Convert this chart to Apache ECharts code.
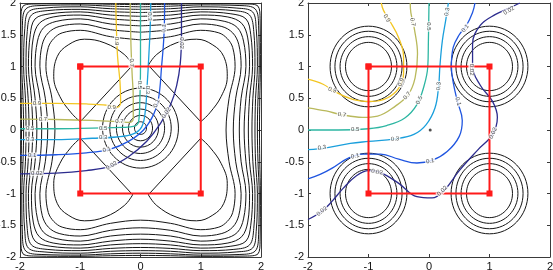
<!DOCTYPE html>
<html>
<head>
<meta charset="utf-8">
<script src="https://cdn.jsdelivr.net/npm/echarts@6/dist/echarts.min.js"></script>
<style>
  html, body { margin: 0; padding: 0; background: #fff; }
  #chart { width: 553px; height: 270px; }
</style>
</head>
<body>
<div id="chart"></div>
<script>
// ---- data ----
const xTicks = [-2, -1, 0, 1, 2];
const yTicks = [-2, -1.5, -1, -0.5, 0, 0.5, 1, 1.5, 2];

// left panel: closed black contours around the four lobes
const ring1 = [[0,1.42],[0.5,1.47],[1,1.57],[1.3,1.53],[1.44,1.44],[1.53,1.3],[1.57,1],[1.47,0.5],[1.42,0],[1.47,-0.5],[1.57,-1],[1.53,-1.3],[1.44,-1.44],[1.3,-1.53],[1,-1.57],[0.5,-1.47],[0,-1.42],[-0.5,-1.47],[-1,-1.57],[-1.3,-1.53],[-1.44,-1.44],[-1.53,-1.3],[-1.57,-1],[-1.47,-0.5],[-1.42,0],[-1.47,0.5],[-1.57,1],[-1.53,1.3],[-1.44,1.44],[-1.3,1.53],[-1,1.57],[-0.5,1.47],[0,1.42]];
const ring2 = [[0,1.54],[0.5,1.58],[1,1.67],[1.35,1.63],[1.53,1.53],[1.63,1.35],[1.67,1],[1.58,0.5],[1.54,0],[1.58,-0.5],[1.67,-1],[1.63,-1.35],[1.53,-1.53],[1.35,-1.63],[1,-1.67],[0.5,-1.58],[0,-1.54],[-0.5,-1.58],[-1,-1.67],[-1.35,-1.63],[-1.53,-1.53],[-1.63,-1.35],[-1.67,-1],[-1.58,-0.5],[-1.54,0],[-1.58,0.5],[-1.67,1],[-1.63,1.35],[-1.53,1.53],[-1.35,1.63],[-1,1.67],[-0.5,1.58],[0,1.54]];
const ring3 = [[0,1.64],[0.5,1.67],[1,1.75],[1.4,1.71],[1.61,1.61],[1.71,1.4],[1.75,1],[1.67,0.5],[1.64,0],[1.67,-0.5],[1.75,-1],[1.71,-1.4],[1.61,-1.61],[1.4,-1.71],[1,-1.75],[0.5,-1.67],[0,-1.64],[-0.5,-1.67],[-1,-1.75],[-1.4,-1.71],[-1.61,-1.61],[-1.71,-1.4],[-1.75,-1],[-1.67,-0.5],[-1.64,0],[-1.67,0.5],[-1.75,1],[-1.71,1.4],[-1.61,1.61],[-1.4,1.71],[-1,1.75],[-0.5,1.67],[0,1.64]];
const ring4 = [[0,1.72],[0.5,1.75],[1,1.81],[1.45,1.78],[1.68,1.68],[1.78,1.45],[1.81,1],[1.75,0.5],[1.72,0],[1.75,-0.5],[1.81,-1],[1.78,-1.45],[1.68,-1.68],[1.45,-1.78],[1,-1.81],[0.5,-1.75],[0,-1.72],[-0.5,-1.75],[-1,-1.81],[-1.45,-1.78],[-1.68,-1.68],[-1.78,-1.45],[-1.81,-1],[-1.75,-0.5],[-1.72,0],[-1.75,0.5],[-1.81,1],[-1.78,1.45],[-1.68,1.68],[-1.45,1.78],[-1,1.81],[-0.5,1.75],[0,1.72]];
const ring5 = [[0,1.79],[0.5,1.81],[1,1.86],[1.5,1.83],[1.75,1.75],[1.83,1.5],[1.86,1],[1.81,0.5],[1.79,0],[1.81,-0.5],[1.86,-1],[1.83,-1.5],[1.75,-1.75],[1.5,-1.83],[1,-1.86],[0.5,-1.81],[0,-1.79],[-0.5,-1.81],[-1,-1.86],[-1.5,-1.83],[-1.75,-1.75],[-1.83,-1.5],[-1.86,-1],[-1.81,-0.5],[-1.79,0],[-1.81,0.5],[-1.86,1],[-1.83,1.5],[-1.75,1.75],[-1.5,1.83],[-1,1.86],[-0.5,1.81],[0,1.79]];
const ring6 = [[0,1.85],[0.5,1.865],[1,1.9],[1.55,1.88],[1.81,1.81],[1.88,1.55],[1.9,1],[1.865,0.5],[1.85,0],[1.865,-0.5],[1.9,-1],[1.88,-1.55],[1.81,-1.81],[1.55,-1.88],[1,-1.9],[0.5,-1.865],[0,-1.85],[-0.5,-1.865],[-1,-1.9],[-1.55,-1.88],[-1.81,-1.81],[-1.88,-1.55],[-1.9,-1],[-1.865,-0.5],[-1.85,0],[-1.865,0.5],[-1.9,1],[-1.88,1.55],[-1.81,1.81],[-1.55,1.88],[-1,1.9],[-0.5,1.865],[0,1.85]];
const ring7 = [[0,1.9],[0.5,1.91],[1,1.94],[1.6,1.92],[1.86,1.86],[1.92,1.6],[1.94,1],[1.91,0.5],[1.9,0],[1.91,-0.5],[1.94,-1],[1.92,-1.6],[1.86,-1.86],[1.6,-1.92],[1,-1.94],[0.5,-1.91],[0,-1.9],[-0.5,-1.91],[-1,-1.94],[-1.6,-1.92],[-1.86,-1.86],[-1.92,-1.6],[-1.94,-1],[-1.91,-0.5],[-1.9,0],[-1.91,0.5],[-1.94,1],[-1.92,1.6],[-1.86,1.86],[-1.6,1.92],[-1,1.94],[-0.5,1.91],[0,1.9]];
const ring8 = [[0,1.94],[0.5,1.95],[1,1.97],[1.65,1.96],[1.905,1.905],[1.96,1.65],[1.97,1],[1.95,0.5],[1.94,0],[1.95,-0.5],[1.97,-1],[1.96,-1.65],[1.905,-1.905],[1.65,-1.96],[1,-1.97],[0.5,-1.95],[0,-1.94],[-0.5,-1.95],[-1,-1.97],[-1.65,-1.96],[-1.905,-1.905],[-1.96,-1.65],[-1.97,-1],[-1.95,-0.5],[-1.94,0],[-1.95,0.5],[-1.97,1],[-1.96,1.65],[-1.905,1.905],[-1.65,1.96],[-1,1.97],[-0.5,1.95],[0,1.94]];
const ring9 = [[0,1.975],[0.5,1.98],[1,1.99],[1.75,1.985],[1.95,1.95],[1.985,1.75],[1.99,1],[1.98,0.5],[1.975,0],[1.98,-0.5],[1.99,-1],[1.985,-1.75],[1.95,-1.95],[1.75,-1.985],[1,-1.99],[0.5,-1.98],[0,-1.975],[-0.5,-1.98],[-1,-1.99],[-1.75,-1.985],[-1.95,-1.95],[-1.985,-1.75],[-1.99,-1],[-1.98,-0.5],[-1.975,0],[-1.98,0.5],[-1.99,1],[-1.985,1.75],[-1.95,1.95],[-1.75,1.985],[-1,1.99],[-0.5,1.98],[0,1.975]];

// left panel: the four lobes (curved outer arc + straight inner edge)
const lobeArcUL = [[-1.0,0.13],[-1.15,0.27],[-1.34,0.53],[-1.44,0.84],[-1.38,1.16],[-1.2,1.34],[-0.93,1.43],[-0.59,1.37],[-0.27,1.19],[-0.13,1.02]];
const lobeArcUR = [[1.0,0.13],[1.15,0.27],[1.34,0.53],[1.44,0.84],[1.38,1.16],[1.2,1.34],[0.93,1.43],[0.59,1.37],[0.27,1.19],[0.13,1.02]];
const lobeArcLL = [[-1.0,-0.13],[-1.15,-0.27],[-1.34,-0.53],[-1.44,-0.84],[-1.38,-1.16],[-1.2,-1.34],[-0.93,-1.43],[-0.59,-1.37],[-0.27,-1.19],[-0.13,-1.02]];
const lobeArcLR = [[1.0,-0.13],[1.15,-0.27],[1.34,-0.53],[1.44,-0.84],[1.38,-1.16],[1.2,-1.34],[0.93,-1.43],[0.59,-1.37],[0.27,-1.19],[0.13,-1.02]];
const lobeEdgeUL = [[-1.0,0.13],[-0.13,1.02]];
const lobeEdgeUR = [[1.0,0.13],[0.13,1.02]];
const lobeEdgeLL = [[-1.0,-0.13],[-0.13,-1.02]];
const lobeEdgeLR = [[1.0,-0.13],[0.13,-1.02]];

// left panel: concentric rings in the middle  [cx, cy, r]
const centreRings = [[0,0.03,0.1],[0,0.03,0.2],[0,0.03,0.3],[0,0.03,0.4],[0,0.03,0.51],[0,0.03,0.63]];

// left panel: coloured level lines
const leftL09 = [[-2,0.42],[-1.4,0.42],[-0.9,0.41],[-0.55,0.39],[-0.38,0.36],[-0.33,0.45],[-0.34,0.75],[-0.38,1.15],[-0.4,1.6],[-0.41,2]];
const leftL07 = [[-2,0.17],[-1.4,0.165],[-0.8,0.15],[-0.35,0.13],[-0.18,0.12],[-0.12,0.18],[-0.12,0.5],[-0.14,0.9],[-0.16,1.4],[-0.17,2]];
const leftL05 = [[-2,0.02],[-1.4,0.02],[-0.8,0.03],[-0.3,0.04],[-0.1,0.06],[-0.03,0.14],[-0.01,0.5],[0,1.0],[0,1.5],[0,2]];
const leftL03 = [[-2,-0.15],[-1.4,-0.15],[-0.8,-0.13],[-0.4,-0.11],[-0.12,-0.06],[0.02,0.05],[0.08,0.3],[0.11,0.7],[0.14,1.2],[0.16,1.6],[0.17,2]];
const leftL01 = [[-2,-0.4],[-1.4,-0.39],[-0.9,-0.36],[-0.5,-0.3],[-0.2,-0.18],[0.05,0.0],[0.22,0.25],[0.3,0.5],[0.35,1.0],[0.39,1.5],[0.4,2]];
const leftL002 = [[-2,-0.69],[-1.4,-0.68],[-0.9,-0.64],[-0.5,-0.57],[-0.2,-0.42],[0.1,-0.18],[0.33,0.1],[0.5,0.4],[0.6,0.7],[0.66,1.05],[0.68,1.5],[0.68,2]];

// right panel: rings around the four corners  [cx, cy, r]
const wellRings = [
  [-1,1,0.38],[-1,1,0.47],[-1,1,0.555],[-1,1,0.635],
  [1,1,0.38],[1,1,0.47],[1,1,0.555],[1,1,0.635],
  [-1,-1,0.38],[-1,-1,0.47],[-1,-1,0.555],[-1,-1,0.635],
  [1,-1,0.38],[1,-1,0.47],[1,-1,0.555],[1,-1,0.635]
];

// right panel: coloured level lines
const rightL09 = [[-2,0.8],[-1.75,0.72],[-1.55,0.6],[-1.25,0.48],[-0.95,0.45],[-0.7,0.5],[-0.5,0.66],[-0.42,0.9],[-0.42,1.15],[-0.5,1.45],[-0.65,1.72],[-0.75,1.88],[-0.79,2]];
const rightL07 = [[-2,0.35],[-1.7,0.3],[-1.44,0.24],[-1.1,0.2],[-0.85,0.22],[-0.55,0.38],[-0.34,0.56],[-0.23,0.82],[-0.19,1.2],[-0.24,1.58],[-0.3,1.85],[-0.31,2]];
const rightL05 = [[-2,0.0],[-1.5,0.0],[-1.0,0.02],[-0.7,0.07],[-0.4,0.19],[-0.2,0.4],[-0.08,0.7],[-0.02,1.0],[-0.01,1.4],[0,2]];
const rightL03 = [[-2,-0.31],[-1.7,-0.28],[-1.3,-0.21],[-1.0,-0.18],[-0.56,-0.14],[-0.25,-0.07],[-0.05,0.08],[0.1,0.35],[0.16,0.7],[0.18,1.0],[0.22,1.4],[0.28,1.75],[0.32,2]];
const rightL01 = [[-2,-0.77],[-1.8,-0.7],[-1.6,-0.6],[-1.35,-0.45],[-1.1,-0.38],[-0.8,-0.38],[-0.5,-0.46],[-0.2,-0.52],[0.05,-0.48],[0.3,-0.34],[0.5,-0.1],[0.55,0.15],[0.47,0.45],[0.4,0.75],[0.37,1.0],[0.4,1.3],[0.5,1.5],[0.62,1.65],[0.72,1.85],[0.76,2]];
const rightL002 = [[-2,-1.41],[-1.77,-1.28],[-1.6,-1.12],[-1.42,-0.92],[-1.2,-0.72],[-1.0,-0.64],[-0.8,-0.67],[-0.5,-0.84],[-0.2,-1.05],[0.05,-1.07],[0.25,-0.95],[0.5,-0.64],[0.8,-0.32],[1.05,-0.07],[1.13,0.2],[1.05,0.45],[0.85,0.7],[0.72,1.0],[0.72,1.35],[0.85,1.65],[1.1,1.82],[1.35,1.93],[1.5,2]];
const centreDot = [[0.02,0.0]];

// red square (same in both panels)
const square = [[-1,1],[1,1],[1,-1],[-1,-1],[-1,1]];

// inline contour labels: [text, x, y, rotation]
const leftLabels = [
  ['0.9',-1.72,0.42,0],['0.9',-0.48,0.36,0],['0.9',-0.39,1.4,-90],
  ['0.7',-1.62,0.17,0],['0.7',-0.35,0.13,0],['0.7',-0.15,1.06,-90],
  ['0.5',-1.83,0.02,0],['0.5',-0.62,0.03,0],['0.5',-0.01,0.71,-90],
  ['0.3',-1.83,-0.15,0],['0.3',-0.62,-0.12,0],['0.3',0.12,0.63,-90],['0.3',0.16,1.79,-90],
  ['0.1',-1.8,-0.4,0],['0.1',-0.56,-0.31,15],['0.1',0.27,0.42,65],['0.1',0.39,1.6,85],
  ['0.02',-1.72,-0.68,0],['0.02',-0.48,-0.56,30],['0.02',0.43,0.27,55],['0.02',0.68,1.37,-90]
];
const rightLabels = [
  ['0.9',-1.6,0.63,-20],['0.9',-0.46,0.75,65],['0.9',-0.7,1.76,-60],
  ['0.7',-1.44,0.24,-10],['0.7',-0.36,0.54,50],['0.7',-0.27,1.7,-80],
  ['0.5',-1.22,0.01,0],['0.5',-0.16,0.47,65],['0.5',-0.01,1.63,-90],
  ['0.3',-1.77,-0.28,8],['0.3',-0.56,-0.14,5],['0.3',0.16,0.69,85],['0.3',0.3,1.86,80],
  ['0.1',-1.22,-0.41,15],['0.1',0.02,-0.49,10],['0.1',0.48,0.45,-75],['0.1',0.6,1.6,50],
  ['0.02',-1.77,-1.28,40],['0.02',-0.86,-0.66,-10],['0.02',0.22,-0.96,45],['0.02',1.06,-0.05,65],['0.02',0.7,0.95,-90],['0.02',1.32,1.88,30]
];

const colors = { c09:'#f3c623', c07:'#b9b95c', c05:'#2db6a2', c03:'#1a9fdc', c01:'#1f55e0', c002:'#2c2c8e' };

// ---- chart ----
const font = 'Liberation Sans, Arial, Helvetica, sans-serif';
const chart = echarts.init(document.getElementById('chart'));

function xAxisFor(grid, top) {
  return {
    type: 'value', gridIndex: grid, min: xTicks[0], max: xTicks[xTicks.length - 1], interval: 1,
    position: top ? 'top' : 'bottom',
    axisLine: { show: true, onZero: false, lineStyle: { color: '#3a3a3a', width: 1 } },
    axisTick: { show: true, inside: true, length: 3, lineStyle: { color: '#3a3a3a' } },
    axisLabel: { show: !top, color: '#111', fontSize: 11, fontFamily: font, margin: 4 },
    splitLine: { show: false }
  };
}
function yAxisFor(grid, right) {
  return {
    type: 'value', gridIndex: grid, min: yTicks[0], max: yTicks[yTicks.length - 1], interval: 0.5,
    position: right ? 'right' : 'left',
    axisLine: { show: true, onZero: false, lineStyle: { color: '#3a3a3a', width: 1 } },
    axisTick: { show: true, inside: true, length: 3, lineStyle: { color: '#3a3a3a' } },
    axisLabel: { show: !right, color: '#111', fontSize: 11, fontFamily: font, margin: 4 },
    splitLine: { show: false }
  };
}

const series = [];
function addLine(data, ax, color, width, smooth, z) {
  series.push({
    type: 'line', xAxisIndex: ax, yAxisIndex: ax, data: data, symbol: 'none',
    smooth: smooth, lineStyle: { color: color, width: width }, silent: true, z: z || 2
  });
}
function addRings(data, ax) {
  series.push({
    type: 'custom', xAxisIndex: ax, yAxisIndex: ax, data: data, silent: true, z: 2,
    encode: { x: 0, y: 1 },
    renderItem: function (params, api) {
      const c = api.coord([api.value(0), api.value(1)]);
      const e = api.coord([api.value(0) + api.value(2), api.value(1) + api.value(2)]);
      return {
        type: 'ellipse',
        shape: { cx: c[0], cy: c[1], rx: Math.abs(e[0] - c[0]), ry: Math.abs(c[1] - e[1]) },
        style: { fill: 'none', stroke: '#151515', lineWidth: 1 }
      };
    }
  });
}
function addLabels(list, ax) {
  series.push({
    type: 'scatter', xAxisIndex: ax, yAxisIndex: ax, symbolSize: 1, silent: true, z: 10,
    itemStyle: { color: 'rgba(0,0,0,0)' },
    data: list.map(function (l) {
      return { value: [l[1], l[2]], label: { formatter: l[0], rotate: l[3] } };
    }),
    label: {
      show: true, position: 'inside', fontSize: 6, color: '#222', fontFamily: font,
      backgroundColor: '#fff', padding: [0, 1]
    }
  });
}

// left panel (axes 0)
[ring1, ring2, ring3, ring4, ring5, ring6, ring7, ring8, ring9].forEach(function (r) {
  addLine(r, 0, '#151515', 1, 0.35);
});
[lobeArcUL, lobeArcUR, lobeArcLL, lobeArcLR].forEach(function (r) { addLine(r, 0, '#151515', 1, 0.4); });
[lobeEdgeUL, lobeEdgeUR, lobeEdgeLL, lobeEdgeLR].forEach(function (r) { addLine(r, 0, '#151515', 1, false); });
addRings(centreRings, 0);
addLine(leftL09, 0, colors.c09, 1.3, 0.4, 3);
addLine(leftL07, 0, colors.c07, 1.3, 0.4, 3);
addLine(leftL05, 0, colors.c05, 1.3, 0.4, 3);
addLine(leftL03, 0, colors.c03, 1.3, 0.4, 3);
addLine(leftL01, 0, colors.c01, 1.3, 0.4, 3);
addLine(leftL002, 0, colors.c002, 1.3, 0.4, 3);

// right panel (axes 2)
addRings(wellRings, 2);
addLine(rightL09, 2, colors.c09, 1.3, 0.4, 3);
addLine(rightL07, 2, colors.c07, 1.3, 0.4, 3);
addLine(rightL05, 2, colors.c05, 1.3, 0.4, 3);
addLine(rightL03, 2, colors.c03, 1.3, 0.4, 3);
addLine(rightL01, 2, colors.c01, 1.3, 0.4, 3);
addLine(rightL002, 2, colors.c002, 1.3, 0.4, 3);

// red squares and centre dot
[0, 2].forEach(function (ax) {
  series.push({
    type: 'line', xAxisIndex: ax, yAxisIndex: ax, data: square, z: 6, silent: true,
    symbol: 'rect', symbolSize: 6, itemStyle: { color: '#ff1a1a' },
    lineStyle: { color: '#ff1a1a', width: 2 }
  });
});
series.push({
  type: 'scatter', xAxisIndex: 2, yAxisIndex: 2, data: centreDot, symbol: 'circle',
  symbolSize: 3, itemStyle: { color: '#222' }, silent: true, z: 6
});

addLabels(leftLabels, 0);
addLabels(rightLabels, 2);

chart.setOption({
  animation: false,
  backgroundColor: '#fff',
  grid: [
    { left: 20, top: 3, width: 241, height: 254, containLabel: false, outerBoundsMode: 'none' },
    { left: 308, top: 3, width: 242, height: 254, containLabel: false, outerBoundsMode: 'none' }
  ],
  xAxis: [xAxisFor(0, false), xAxisFor(0, true), xAxisFor(1, false), xAxisFor(1, true)],
  yAxis: [yAxisFor(0, false), yAxisFor(0, true), yAxisFor(1, false), yAxisFor(1, true)],
  series: series
});
</script>
</body>
</html>
